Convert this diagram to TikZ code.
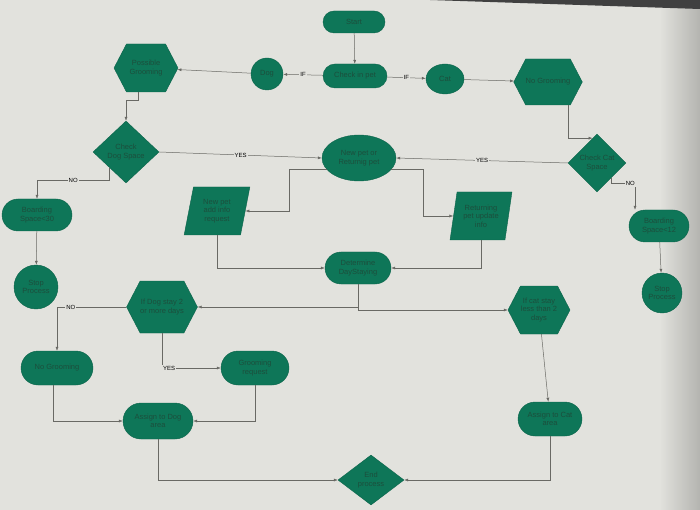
\documentclass[tikz,border=0pt]{standalone}
\usepackage{fontspec}
\setmainfont{Liberation Sans}
\usetikzlibrary{shapes.geometric,shapes.symbols,shapes.misc,arrows.meta}
\definecolor{flow}{RGB}{14,118,88}
\definecolor{flowtext}{RGB}{28,78,60}
\definecolor{paper}{RGB}{226,226,221}
\definecolor{wire}{RGB}{105,105,100}

\begin{document}
\begin{tikzpicture}[x=1pt, y=-1pt,
    base/.style={fill=flow, draw=flow!85!black, text=flowtext, inner sep=0pt,
        align=center, font=\fontsize{7.5}{8.5}\selectfont},
    pill/.style={base, rounded rectangle},
    roundel/.style={base, circle},
    oval/.style={base, ellipse},
    hexa/.style={base, signal, signal to=west and east, signal pointer angle=125},
    choice/.style={base, diamond},
    slant/.style={base, trapezium, trapezium left angle=77, trapezium right angle=103,
        trapezium stretches=true},
    arr/.style={draw=wire, line width=0.5pt, -{Latex[length=4pt,width=3pt]}},
    lbl/.style={fill=paper, inner sep=1pt, text=black, font=\fontsize{6}{6}\selectfont}]

    \fill[paper] (0,0) rectangle (700,510);
    \shade[left color=paper, right color=paper!60!black, opacity=0.5] (660,0) rectangle (700,510);
    \fill[black!75] (430,0) -- (700,0) -- (700,9) -- cycle;

    \node[pill, minimum width=62, minimum height=22] (start) at (354,22) {Start};
    \node[pill, minimum width=64, minimum height=24] (checkin) at (355,76) {Check in pet};
    \node[roundel, minimum size=32] (dog) at (267,74) {Dog};
    \node[oval, minimum width=38, minimum height=30] (cat) at (445,79) {Cat};
    \node[hexa, minimum width=64, minimum height=48] (posgroom) at (146,68) {Possible\\Grooming};
    \node[hexa, minimum width=60, minimum height=46] (catgroom) at (548,82) {No Grooming};

    \node[choice, minimum width=66, minimum height=62] (dogspace) at (126,152) {Check\\Dog Space};
    \node[oval, minimum width=74, minimum height=46] (newret) at (359,158) {New pet or\\Returnig pet};
    \node[choice, minimum width=58, minimum height=58] (catspace) at (597,163) {Check Cat\\Space};

    \node[pill, minimum width=70, minimum height=32] (board30) at (37,215) {Boarding\\Space<30};
    \node[pill, minimum width=60, minimum height=32] (board12) at (659,226) {Boarding\\Space<12};
    \node[roundel, minimum size=44] (stopdog) at (36,287) {Stop\\Process};
    \node[roundel, minimum size=40] (stopcat) at (662,293) {Stop\\Process};

    \node[slant, minimum width=66, minimum height=48] (newinfo) at (217,211) {New pet\\add info\\request};
    \node[slant, minimum width=62, minimum height=48] (retinfo) at (481,216) {Returning\\pet update\\info};
    \node[pill, minimum width=66, minimum height=32] (determine) at (358,268) {Determine\\DayStaying};

    \node[hexa, minimum width=66, minimum height=52] (dogstay) at (162,307) {If Dog stay 2\\or more days};
    \node[hexa, minimum width=62, minimum height=48] (catstay) at (539,310) {If cat stay\\less than 2\\days};
    \node[pill, minimum width=72, minimum height=34] (doggroom) at (57,368) {No Grooming};
    \node[pill, minimum width=68, minimum height=34] (groomreq) at (255,368) {Grooming\\request};
    \node[pill, minimum width=70, minimum height=36] (dogarea) at (158,421) {Assign to Dog\\area};
    \node[pill, minimum width=64, minimum height=34] (catarea) at (550,419) {Assign to Cat\\area};
    \node[choice, minimum width=66, minimum height=50] (finish) at (371,480) {End\\process};

    \foreach \a/\b in {start/checkin, dog/posgroom, cat/catgroom, board30/stopdog,
        board12/stopcat, catstay/catarea}
    \draw[arr] (\a) -- (\b);

    \draw[arr] (checkin) -- node[lbl]{IF} (dog);
    \draw[arr] (checkin) -- node[lbl]{IF} (cat);
    \draw[arr] ([xshift=-8pt]posgroom.south) -- ++(0,8) -| (dogspace.north);
    \draw[arr] ([xshift=20pt]catgroom.south) |- (catspace.100);

    \draw[arr] (dogspace.east) -- node[lbl]{YES} (newret.west);
    \draw[arr] (catspace.west) -- node[lbl]{YES} (newret.east);
    \draw[arr] (dogspace.south west) -- ++(0,13) -| node[lbl, pos=0.25]{NO} (board30.north);
    \draw[arr] (catspace.south east) -- ++(0,6) -| node[lbl, pos=0.4]{NO} ([xshift=-24pt]board12.north);

    \draw[arr] (newret.200) -- ++(-38,0) |- (newinfo.east);
    \draw[arr] (newret.340) -- ++(32,0) |- (retinfo.west);
    \draw[arr] (newinfo.south) |- (determine.west);
    \draw[arr] (retinfo.south) |- (determine.east);
    \draw[arr] (determine.south) |- (dogstay.east);
    \draw[arr] (determine.south) |- (catstay.west);

    \draw[arr] (dogstay.west) -| node[lbl, pos=0.4]{NO} (doggroom.north);
    \draw[arr] (dogstay.south) |- node[lbl, pos=0.56]{YES} (groomreq.west);
    \draw[arr] ([xshift=-4pt]doggroom.south) |- (dogarea.west);
    \draw[arr] (groomreq.south) |- (dogarea.east);
    \draw[arr] (dogarea.south) |- (finish.west);
    \draw[arr] (catarea.south) |- (finish.east);
\end{tikzpicture}
\end{document}
